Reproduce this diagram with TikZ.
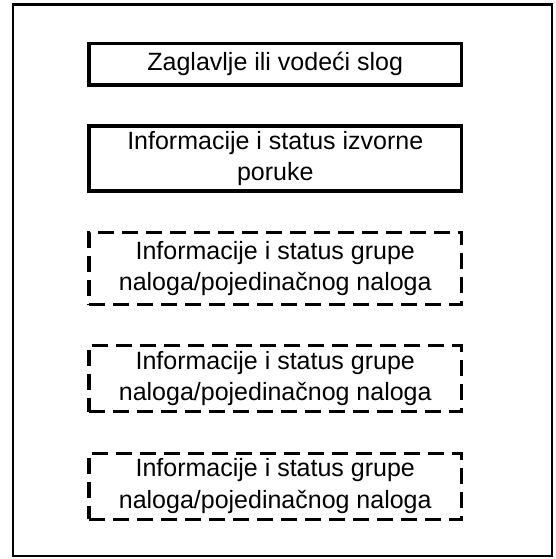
\documentclass[tikz,border=0pt]{standalone}
\usepackage{fontspec}
\setmainfont{Liberation Sans}
\begin{document}
\begin{tikzpicture}[x=1pt,y=-1pt,
  frame/.style={draw, line width=2.8pt},
  box/.style={draw, line width=3.5pt, minimum width=372.5pt, align=center, inner sep=0pt,
    font=\fontsize{25}{31.6}\selectfont},
  dbox/.style={box, dash pattern=on 16pt off 8pt}]
\useasboundingbox (0,0) rectangle (555,559);
\draw[frame] (13,4.3) rectangle (552,556);
\node[box, minimum height=41.3pt] (b1) at (275.25,64.35) {Zaglavlje ili vodeći slog};
\node[box, minimum height=65pt] (b2) at (275.25,158.5) {Informacije i status izvorne\\poruke};
\node[dbox, minimum height=72pt] (b3) at (275.25,268.5) {Informacije i status grupe\\naloga/pojedinačnog naloga};
\node[dbox, minimum height=66.4pt] (b4) at (275.25,378.5) {Informacije i status grupe\\naloga/pojedinačnog naloga};
\node[dbox, minimum height=66pt] (b5) at (275.25,486.3) {Informacije i status grupe\\naloga/pojedinačnog naloga};
\end{tikzpicture}
\end{document}
